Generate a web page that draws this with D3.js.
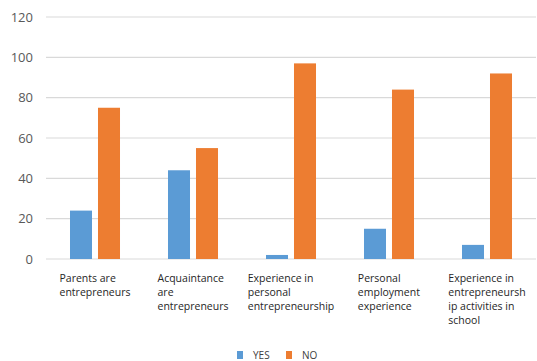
<!DOCTYPE html>
<html>
<head>
<meta charset="utf-8">
<script src="https://cdn.jsdelivr.net/npm/d3@7"></script>
<style>
  body { margin: 0; background: #fff; }
  svg { display: block; }
</style>
</head>
<body>
<svg></svg>
<script>
let categories = [
    ['Parents are', 'entrepreneurs'],
    ['Acquaintance', 'are', 'entrepreneurs'],
    ['Experience in', 'personal', 'entrepreneurship'],
    ['Personal', 'employment', 'experience'],
    ['Experience in', 'entrepreneursh', 'ip activities in', 'school']
]
let yesValues = [24, 44, 2, 15, 7]
let noValues = [75, 55, 97, 84, 92]
let seriesNames = ['YES', 'NO']
let yTicks = [0, 20, 40, 60, 80, 100, 120]

let width = 537
let height = 361
let plotLeft = 46
let plotRight = 536
let plotTop = 17
let plotBottom = 259

let colors = { YES: '#5b9bd5', NO: '#ed7d31' }

let svg = d3.select('svg').attr('width', width).attr('height', height)

let keys = categories.map((c, i) => 'c' + i)

let xScale = d3.scaleBand()
    .domain(keys)
    .range([plotLeft, plotRight])

let x1Scale = d3.scaleBand()
    .domain(seriesNames)
    .range([0, xScale.bandwidth()])
    .paddingInner(0.214)
    .paddingOuter(0.857)

let yScale = d3.scaleLinear()
    .domain([0, 120])
    .range([plotBottom, plotTop])

// gridlines
svg.append('g')
    .selectAll('line')
    .data(yTicks)
    .enter()
    .append('line')
    .attr('x1', plotLeft)
    .attr('x2', plotRight)
    .attr('y1', d => yScale(d))
    .attr('y2', d => yScale(d))
    .attr('stroke', '#d9d9d9')
    .attr('stroke-width', 1.2)

// y axis labels
let yAxis = d3.axisLeft(yScale).tickValues(yTicks).tickSize(0).tickPadding(0)
let yg = svg.append('g')
    .attr('transform', 'translate(33,0)')
    .call(yAxis)
yg.select('.domain').remove()
yg.selectAll('text')
    .attr('fill', '#595959')
    .style('font-family', 'Open Sans, sans-serif')
    .style('font-size', '13px')

// bars
let rows = keys.map((k, i) => ({ key: k, YES: yesValues[i], NO: noValues[i] }))

svg.append('g')
    .selectAll('g')
    .data(rows)
    .enter()
    .append('g')
    .attr('transform', d => 'translate(' + xScale(d.key) + ',0)')
    .selectAll('rect')
    .data(d => seriesNames.map(s => ({ s: s, v: d[s] })))
    .enter()
    .append('rect')
    .attr('x', d => x1Scale(d.s))
    .attr('width', x1Scale.bandwidth())
    .attr('y', d => yScale(d.v))
    .attr('height', d => yScale(0) - yScale(d.v))
    .attr('fill', d => colors[d.s])

// category labels: lines left aligned, block centered in band
categories.forEach((lines, i) => {
    let t = svg.append('text')
        .attr('fill', '#262626')
        .style('font-family', 'Open Sans, sans-serif')
        .style('font-size', '10.5px')
    lines.forEach((line, j) => {
        t.append('tspan')
            .attr('x', 0)
            .attr('y', 282 + j * 14)
            .text(line)
    })
    let w = t.node().getBBox().width
    let cx = xScale(keys[i]) + xScale.bandwidth() / 2
    t.attr('transform', 'translate(' + (cx - w / 2) + ',0)')
})

// legend
let legend = svg.append('g')
let legendX = [237, 286]
seriesNames.forEach((s, i) => {
    legend.append('rect')
        .attr('x', legendX[i])
        .attr('y', 351)
        .attr('width', 6)
        .attr('height', 8)
        .attr('fill', colors[s])
    legend.append('text')
        .attr('x', legendX[i] + 16)
        .attr('y', 359)
        .attr('fill', '#404040')
        .style('font-family', 'Open Sans, sans-serif')
        .style('font-size', '10px')
        .text(s)
})
</script>
</body>
</html>
